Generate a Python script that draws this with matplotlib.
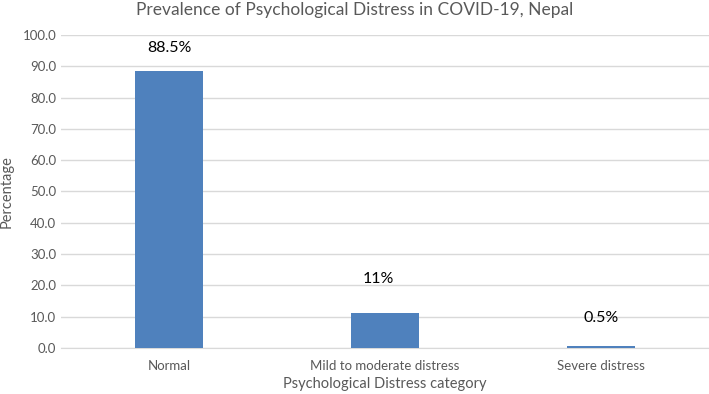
import numpy as np
import matplotlib.pyplot as plt

plt.rcParams['font.family'] = ['Lato', 'DejaVu Sans']

categories = ['Normal', 'Mild to moderate distress', 'Severe distress']
values = [88.5, 11.0, 0.5]
value_labels = ['88.5%', '11%', '0.5%']
yticks = np.arange(0, 101, 10)

fig = plt.figure(figsize=(7.09, 3.94), dpi=100)
ax = fig.add_axes([0.086, 0.117, 0.914, 0.794])

x = np.arange(len(categories))
ax.bar(x, values, width=0.315, color='#4f81bd', zorder=3)

# data labels were nudged by hand in the original, keep the same nudges
label_nudge = [(0, 23), (-7, 34), (0, 28)]
for xi, v, lab, off in zip(x, values, value_labels, label_nudge):
    ax.annotate(lab, (xi, v), xytext=off, textcoords='offset pixels',
                ha='center', va='center', fontsize=11.5, color='black')

ax.set_xlim(-0.5, 2.5)
ax.set_ylim(0, 100)
ax.set_yticks(yticks)
ax.set_yticklabels([f'{t:.1f}' for t in yticks])
ax.set_xticks(x)
ax.set_xticklabels(categories)
ax.tick_params(axis='both', length=0, labelsize=9.5, labelcolor='#595959')
ax.tick_params(axis='x', pad=9)
ax.grid(axis='y', color='#d9d9d9', linewidth=1, zorder=0)
for s in ['top', 'right', 'left']:
    ax.spines[s].set_visible(False)
ax.spines['bottom'].set_color('#d9d9d9')

ax.set_xlabel('Psychological Distress category', fontsize=10.5, color='#595959', labelpad=3)
ax.set_ylabel('Percentage', fontsize=10.5, color='#595959', labelpad=6)
fig.text(0.5, 0.975, 'Prevalence of Psychological Distress in COVID-19, Nepal',
         ha='center', va='center', fontsize=12.5, color='#595959')

fig.savefig('out.png', dpi=100)
